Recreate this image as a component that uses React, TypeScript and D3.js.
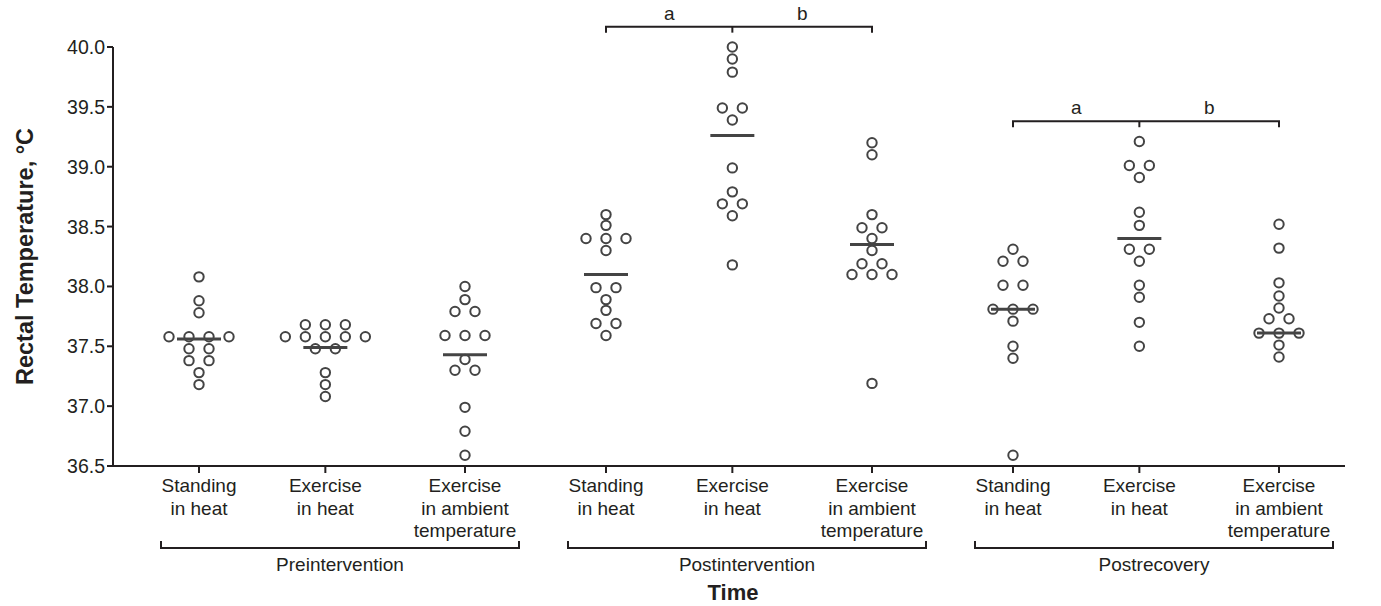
import React from "react";
import * as d3 from "d3";

const timepoints = ["Preintervention", "Postintervention", "Postrecovery"];
const conditions = [
  ["Standing", "in heat"],
  ["Exercise", "in heat"],
  ["Exercise", "in ambient", "temperature"],
];

const preStanding = [38.08, 37.88, 37.78, 37.58, 37.58, 37.58, 37.58, 37.48, 37.48, 37.38, 37.38, 37.28, 37.18];
const preExHeat = [37.68, 37.68, 37.68, 37.58, 37.58, 37.58, 37.58, 37.58, 37.48, 37.48, 37.28, 37.18, 37.08];
const preAmbient = [38.0, 37.89, 37.79, 37.79, 37.59, 37.59, 37.59, 37.39, 37.3, 37.3, 36.99, 36.79, 36.59];
const postStanding = [38.6, 38.51, 38.4, 38.4, 38.4, 38.3, 37.99, 37.99, 37.89, 37.8, 37.69, 37.69, 37.59];
const postExHeat = [40.0, 39.9, 39.79, 39.49, 39.49, 39.39, 38.99, 38.79, 38.69, 38.69, 38.59, 38.18];
const postAmbient = [39.2, 39.1, 38.6, 38.49, 38.49, 38.4, 38.3, 38.19, 38.19, 38.1, 38.1, 38.1, 37.19];
const recStanding = [38.31, 38.21, 38.21, 38.01, 38.01, 37.81, 37.81, 37.81, 37.71, 37.5, 37.4, 36.59];
const recExHeat = [39.21, 39.01, 39.01, 38.91, 38.62, 38.51, 38.31, 38.31, 38.21, 38.01, 37.91, 37.7, 37.5];
const recAmbient = [38.52, 38.32, 38.03, 37.92, 37.82, 37.73, 37.73, 37.61, 37.61, 37.61, 37.51, 37.41];

const preMeans = [37.56, 37.49, 37.43];
const postMeans = [38.1, 39.26, 38.35];
const recMeans = [37.81, 38.4, 37.61];

const yTicks = [36.5, 37.0, 37.5, 38.0, 38.5, 39.0, 39.5, 40.0];

const sigTimepoints = ["Postintervention", "Postrecovery"];
const sigLevels = [40.17, 39.38];
const sigLabels = ["a", "b"];

const groupValues = [
  [preStanding, preExHeat, preAmbient],
  [postStanding, postExHeat, postAmbient],
  [recStanding, recExHeat, recAmbient],
];
const groupMeans = [preMeans, postMeans, recMeans];

const W = 1381;
const H = 606;
const INK = "#231f20";
const DOT = "#444";
const FONT = "'Liberation Sans', Arial, Helvetica, sans-serif";

const conditionFrac = [0, 0.475, 1];

export default function App() {
  const y = d3.scaleLinear().domain([36.5, 40]).range([466, 47]);
  const xOuter = d3.scalePoint<string>().domain(timepoints).range([332, 1146]);
  const xInner = d3.scaleLinear().domain([0, 1]).range([-133, 133]);
  const xPos = (t: number, c: number) => (xOuter(timepoints[t]) as number) + xInner(conditionFrac[c]);

  const axisX0 = 113;
  const axisX1 = 1345;
  const axisY = y(36.5);
  const dotSpacing = 20;

  const points: { x: number; y: number; key: string }[] = [];
  groupValues.forEach((grp, t) => {
    grp.forEach((vals, c) => {
      const rows = d3.group(vals, (v) => v.toFixed(2));
      rows.forEach((arr, k) => {
        const n = arr.length;
        arr.forEach((v, i) => {
          points.push({
            x: xPos(t, c) + (i - (n - 1) / 2) * dotSpacing,
            y: y(v),
            key: `${t}-${c}-${k}-${i}`,
          });
        });
      });
    });
  });

  return (
    <svg
      width={W}
      height={H}
      style={{ position: "absolute", left: 0, top: 0, background: "#fff" }}
      fontFamily={FONT}
    >
      {/* y axis */}
      <line x1={axisX0} x2={axisX0} y1={y(40)} y2={axisY + 1} stroke={INK} strokeWidth={2} />
      {yTicks.map((t) => (
        <g key={t}>
          <line x1={axisX0 - 6} x2={axisX0} y1={y(t)} y2={y(t)} stroke={INK} strokeWidth={2} />
          <text x={axisX0 - 8} y={y(t)} dy="0.36em" textAnchor="end" fontSize={19.5} fill={INK}>
            {t.toFixed(1)}
          </text>
        </g>
      ))}
      <text
        transform={`translate(25,${(y(36.5) + y(40)) / 2}) rotate(-90)`}
        textAnchor="middle"
        dy="0.36em"
        fontSize={23.5}
        fontWeight="bold"
        fill={INK}
      >
        Rectal Temperature, °C
      </text>

      {/* x axis */}
      <line x1={axisX0 - 1} x2={axisX1} y1={axisY} y2={axisY} stroke={INK} strokeWidth={2} />
      {timepoints.map((tp, t) => (
        <g key={tp}>
          {conditions.map((lines, c) => (
            <g key={c}>
              <line x1={xPos(t, c)} x2={xPos(t, c)} y1={axisY} y2={axisY + 7} stroke={INK} strokeWidth={2} />
              {lines.map((ln, i) => (
                <text key={i} x={xPos(t, c)} y={492 + i * 22.5} textAnchor="middle" fontSize={19} fill={INK}>
                  {ln}
                </text>
              ))}
            </g>
          ))}
          <path
            d={`M${xPos(t, 0) - 38},541 V548 H${xPos(t, 2) + 54} V541`}
            fill="none"
            stroke={INK}
            strokeWidth={2}
          />
          <text
            x={(xPos(t, 0) - 38 + xPos(t, 2) + 54) / 2}
            y={571}
            textAnchor="middle"
            fontSize={19}
            fill={INK}
          >
            {tp}
          </text>
        </g>
      ))}
      <text x={(axisX0 + axisX1) / 2 + 4} y={600} textAnchor="middle" fontSize={22} fontWeight="bold" fill={INK}>
        Time
      </text>

      {/* significance brackets */}
      {sigTimepoints.map((tp, s) => {
        const t = timepoints.indexOf(tp);
        const by = y(sigLevels[s]);
        const x0 = xPos(t, 0);
        const x1 = xPos(t, 1);
        const x2 = xPos(t, 2);
        return (
          <g key={tp}>
            <path d={`M${x0},${by + 6} V${by} H${x2} V${by + 6}`} fill="none" stroke={INK} strokeWidth={2} />
            <line x1={x1} x2={x1} y1={by} y2={by + 6} stroke={INK} strokeWidth={2} />
            <text x={(x0 + x1) / 2} y={by - 7} textAnchor="middle" fontSize={19} fill={INK}>
              {sigLabels[0]}
            </text>
            <text x={(x1 + x2) / 2} y={by - 7} textAnchor="middle" fontSize={19} fill={INK}>
              {sigLabels[1]}
            </text>
          </g>
        );
      })}

      {/* points */}
      {points.map((p) => (
        <circle key={p.key} cx={p.x} cy={p.y} r={4.7} fill="#fff" stroke={DOT} strokeWidth={2} />
      ))}

      {/* means */}
      {groupMeans.map((ms, t) =>
        ms.map((m, c) => (
          <line
            key={`${t}-${c}`}
            x1={xPos(t, c) - 22}
            x2={xPos(t, c) + 22}
            y1={y(m)}
            y2={y(m)}
            stroke={DOT}
            strokeWidth={3}
          />
        ))
      )}
    </svg>
  );
}
